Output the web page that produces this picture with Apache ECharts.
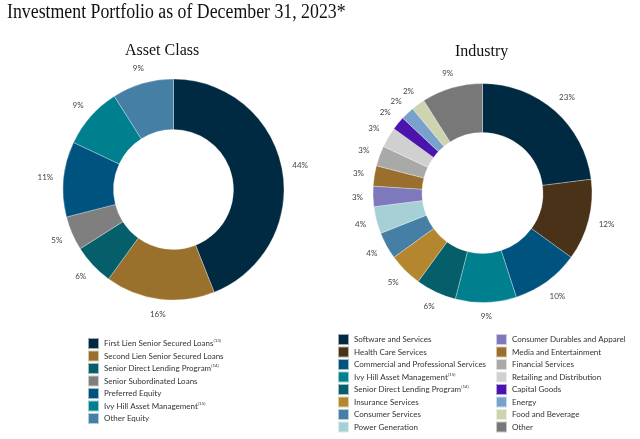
<!DOCTYPE html>
<html>
<head>
<meta charset="utf-8">
<script src="https://cdn.jsdelivr.net/npm/echarts@6/dist/echarts.min.js"></script>
<style>
html,body{margin:0;padding:0;background:#fff;}
#chart{width:640px;height:439px;}
</style>
</head>
<body>
<div id="chart"></div>
<script>
// ---- data ----
var assetNames = ['First Lien Senior Secured Loans','Second Lien Senior Secured Loans','Senior Direct Lending Program','Senior Subordinated Loans','Preferred Equity','Ivy Hill Asset Management','Other Equity'];
var assetValues = [44, 16, 6, 5, 11, 9, 9];
var assetColors = ['#002a42','#9a702d','#045f6b','#7f7f7f','#00537f','#00808f','#457fa5'];

var industryNames = ['Software and Services','Health Care Services','Commercial and Professional Services','Ivy Hill Asset Management','Senior Direct Lending Program','Insurance Services','Consumer Services','Power Generation','Consumer Durables and Apparel','Media and Entertainment','Financial Services','Retailing and Distribution','Capital Goods','Energy','Food and Beverage','Other'];
var industryValues = [23, 12, 10, 9, 6, 5, 4, 4, 3, 3, 3, 3, 2, 2, 2, 9];
var industryColors = ['#002a42','#4a3219','#00537f','#00808f','#045f6b','#b4872f','#457fa5','#a7d0d6','#7e78bd','#9a6f2d','#a9a9a7','#d0d0d0','#4b15ad','#78a2cc','#ced3b0','#787878'];

var footnotes = {'First Lien Senior Secured Loans':'(13)','Senior Direct Lending Program':'(14)','Ivy Hill Asset Management':'(15)'};

function toData(names, values, colors){
  return names.map(function(n,i){return {name:n, value:values[i], itemStyle:{color:colors[i]}};});
}
function legendData(names, colors){
  return names.map(function(n,i){return {name:n, itemStyle:{color:colors[i]}};});
}

var chart = echarts.init(document.getElementById('chart'));
var legendText = {
  fontFamily:'Lato', fontSize:8, color:'#333', lineHeight:11,
  rich:{ sup:{fontFamily:'Lato', fontSize:4.5, color:'#333', lineHeight:11, padding:[0,0,5,0]} }
};
function fmt(n){ return footnotes[n] ? n + '{sup|' + footnotes[n] + '}' : n; }
var legendCommon = {
  orient:'vertical', icon:'rect', itemWidth:11, itemHeight:11, itemGap:-0.5,
  padding:0, height:110, textStyle:legendText, formatter:fmt, selectedMode:false
};

// pie geometry (styles/positions)
var pies = [
  {center:[173.5,189.5], radius:[60,110.5]},
  {center:[482.5,193], radius:[60.5,109.5]}
];
var LABEL_GAP = 10;

// Re-center each outside label on its slice's ray (Excel-like "outside end" placement),
// starting from the anchor point that ECharts' pie layout computed.
function labelLayout(params){
  var p = pies[params.seriesIndex];
  var r = params.labelRect, w = r.width, h = r.height;
  var ax = params.align === 'right' ? r.x + w : r.x;
  var ay = r.y + h / 2;
  var vx = ax - p.center[0], vy = ay - p.center[1];
  var len = Math.sqrt(vx*vx + vy*vy) || 1;
  var ux = vx/len, uy = vy/len;
  var ext = (w/2)*Math.abs(ux) + (h/2)*Math.abs(uy);
  var R = p.radius[1] + LABEL_GAP + ext;
  return {x: p.center[0] + ux*R, y: p.center[1] + uy*R, align:'center', verticalAlign:'middle'};
}

var pieCommon = {
  type:'pie', startAngle:90, clockwise:true, avoidLabelOverlap:false,
  label:{show:true, position:'outside', formatter:'{c}%', fontFamily:'Lato', fontSize:8, color:'#444', distanceToLabelLine:0},
  labelLine:{show:false, length:10, length2:0},
  labelLayout: labelLayout,
  itemStyle:{borderColor:'rgba(255,255,255,0.6)', borderWidth:0.5},
  emphasis:{disabled:true}, animation:false
};

chart.setOption({
  backgroundColor:'#fff',
  animation:false,
  title:[
    {text:'Asset Class', left:125, top:43, padding:0,
     textStyle:{fontFamily:'Liberation Serif', fontSize:16, fontWeight:'normal', color:'#111'}},
    {text:'Industry', left:455, top:44, padding:0,
     textStyle:{fontFamily:'Liberation Serif', fontSize:16, fontWeight:'normal', color:'#111'}}
  ],
  graphic:[
    {type:'text', x:7, y:3, scaleX:0.89, silent:true,
     style:{text:'Investment Portfolio as of December 31, 2023*', fontFamily:'Liberation Serif', fontSize:20, fill:'#111', textVerticalAlign:'top', verticalAlign:'top'}}
  ],
  legend:[
    Object.assign({}, legendCommon, {left:87, top:337, data:legendData(assetNames, assetColors)}),
    Object.assign({}, legendCommon, {left:337, top:333, data:legendData(industryNames.slice(0,8), industryColors.slice(0,8))}),
    Object.assign({}, legendCommon, {left:495, top:333, data:legendData(industryNames.slice(8), industryColors.slice(8))})
  ],
  series:[
    Object.assign({}, pieCommon, {name:'Asset Class', center:pies[0].center, radius:pies[0].radius, data:toData(assetNames, assetValues, assetColors)}),
    Object.assign({}, pieCommon, {name:'Industry', center:pies[1].center, radius:pies[1].radius, data:toData(industryNames, industryValues, industryColors)})
  ]
});
</script>
</body>
</html>
